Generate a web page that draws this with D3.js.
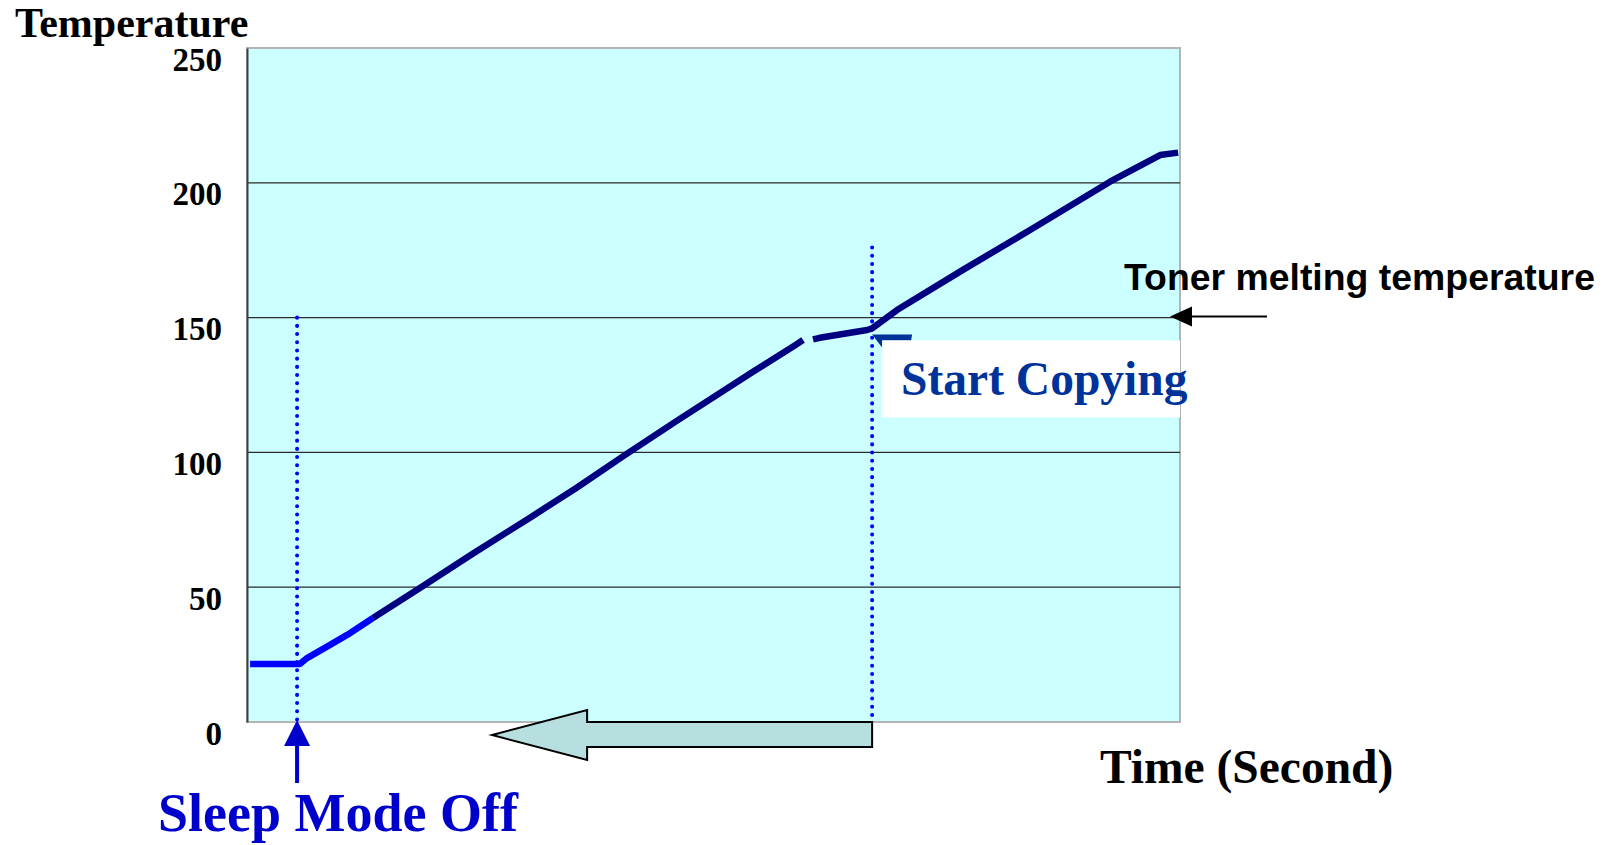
<!DOCTYPE html>
<html>
<head>
<meta charset="utf-8">
<script src="https://cdn.jsdelivr.net/npm/d3@7"></script>
<style>
  body { margin: 0; background: #fff; }
  svg { display: block; }
</style>
</head>
<body>
<svg id="chart" width="1605" height="845"></svg>
<script>
// warm-up data (seconds, degrees)
const standbyTimes = [0.1, 1.70, 1.93, 2.67, 3.22, 4.05];
const standbyTemps = [21.5, 21.5, 23.7, 28.6, 32.3, 38.6];

const heatTimes = [4.05, 5.56, 7.27, 9.10, 10.6, 12.1, 13.83, 16.27, 17.6, 17.88];
const heatTemps = [38.6, 49.7, 62.5, 75.8, 86.9, 98.6, 111.8, 129.9, 139.6, 141.7];

const copyTimes = [18.20, 18.42, 19.94, 20.10, 20.90, 23.02, 25.18, 27.75, 29.36, 29.94];
const copyTemps = [141.9, 142.5, 145.4, 146.0, 152.8, 167.7, 182.5, 200.4, 210.3, 211.2];

const yTicks = [0, 50, 100, 150, 200, 250];
const gridTicks = [50, 100, 150, 200];

const sleepOffTime = 1.61;
const startCopyTime = 20.1;
const meltTemp = 150;

const svg = d3.select('#chart');
const x = d3.scaleLinear().domain([0, 30]).range([247, 1180]);
const y = d3.scaleLinear().domain([0, 250]).range([722, 48]);

const serif = '"Liberation Serif", "Times New Roman", serif';
const sans = '"Liberation Sans", Arial, sans-serif';

// plot background
svg.append('rect')
    .attr('x', x(0))
    .attr('y', y(250))
    .attr('width', x(30) - x(0))
    .attr('height', y(0) - y(250))
    .attr('fill', '#ccffff')
    .attr('stroke', '#b4b4b4')
    .attr('stroke-width', 2);

// grid
svg.selectAll('.grid')
    .data(gridTicks)
    .enter()
    .append('line')
    .attr('class', 'grid')
    .attr('x1', x(0))
    .attr('x2', x(30))
    .attr('y1', (d) => y(d))
    .attr('y2', (d) => y(d))
    .attr('stroke', '#2a2a2a')
    .attr('stroke-width', 1.3);

// y axis
const yAxis = d3.axisLeft(y).tickValues(yTicks).tickSize(0).tickPadding(25);
const gy = svg.append('g').attr('transform', `translate(${x(0)},0)`).call(yAxis);
gy.select('.domain').attr('stroke', '#404040').attr('stroke-width', 2);
gy.selectAll('text')
    .attr('dy', 22)
    .attr('font-family', serif)
    .attr('font-weight', 'bold')
    .attr('font-size', 33)
    .attr('fill', '#000');

svg.append('text')
    .attr('x', 15)
    .attr('y', 37)
    .text('Temperature')
    .attr('font-family', serif)
    .attr('font-weight', 'bold')
    .attr('font-size', 42);

svg.append('text')
    .attr('x', 1100)
    .attr('y', 783)
    .text('Time (Second)')
    .attr('font-family', serif)
    .attr('font-weight', 'bold')
    .attr('font-size', 47.5);

// dotted markers
const dotted = [
    { t: sleepOffTime, top: 150 },
    { t: startCopyTime, top: 176 },
];
svg.selectAll('.mark')
    .data(dotted)
    .enter()
    .append('line')
    .attr('class', 'mark')
    .attr('x1', (d) => x(d.t))
    .attr('x2', (d) => x(d.t))
    .attr('y1', (d) => y(d.top))
    .attr('y2', y(0) - 2)
    .attr('stroke', '#0000ff')
    .attr('stroke-width', 4)
    .attr('stroke-linecap', 'round')
    .attr('stroke-dasharray', '0.1 8.1');

// temperature curve
const line = d3.line()
    .x((d) => x(d[0]))
    .y((d) => y(d[1]));

const segments = [
    { pts: d3.zip(standbyTimes, standbyTemps), color: '#0000ff' },
    { pts: d3.zip(heatTimes, heatTemps), color: '#000080' },
    { pts: d3.zip(copyTimes, copyTemps), color: '#000080' },
];
svg.selectAll('.curve')
    .data(segments)
    .enter()
    .append('path')
    .attr('class', 'curve')
    .attr('d', (d) => line(d.pts))
    .attr('fill', 'none')
    .attr('stroke', (d) => d.color)
    .attr('stroke-width', 6.5)
    .attr('stroke-linejoin', 'round');

// big hollow arrow back to sleep mode
const ax = x(startCopyTime);
const ay = y(0);
svg.append('polygon')
    .attr('points', [
        [ax, ay], [ax, ay + 25], [ax - 285, ay + 25], [ax - 285, ay + 38],
        [ax - 380, ay + 13], [ax - 285, ay - 12], [ax - 285, ay],
    ].join(' '))
    .attr('fill', '#b8dfe0')
    .attr('stroke', '#000')
    .attr('stroke-width', 2);

// sleep mode off arrow
const sx = x(sleepOffTime);
svg.append('line')
    .attr('x1', sx).attr('x2', sx)
    .attr('y1', ay + 61).attr('y2', ay + 20)
    .attr('stroke', '#0000cc')
    .attr('stroke-width', 4);
svg.append('polygon')
    .attr('points', [[sx, ay - 2], [sx - 13, ay + 24], [sx + 13, ay + 24]].join(' '))
    .attr('fill', '#0000cc');
svg.append('text')
    .attr('x', 158)
    .attr('y', 831)
    .text('Sleep Mode Off')
    .attr('font-family', serif)
    .attr('font-weight', 'bold')
    .attr('font-size', 54)
    .attr('fill', '#0000cc');

// start copying callout
const cy = y(146);
svg.append('polygon')
    .attr('points', [
        [ax, cy + 6], [ax + 40, cy + 6], [ax + 39, cy + 12],
        [ax + 10, cy + 12], [ax + 10, cy + 19],
    ].join(' '))
    .attr('fill', '#003399');
svg.append('rect')
    .attr('x', ax + 10)
    .attr('y', cy + 12)
    .attr('width', x(30) - ax - 10)
    .attr('height', 77)
    .attr('fill', '#fff');
svg.append('text')
    .attr('x', ax + 29)
    .attr('y', cy + 67)
    .text('Start Copying')
    .attr('font-family', serif)
    .attr('font-weight', 'bold')
    .attr('font-size', 47.5)
    .attr('fill', '#003399');

// toner melting annotation
const my = y(meltTemp) - 1;
svg.append('line')
    .attr('x1', x(30) + 12).attr('x2', x(30) + 87)
    .attr('y1', my).attr('y2', my)
    .attr('stroke', '#000')
    .attr('stroke-width', 2);
svg.append('polygon')
    .attr('points', [[x(30) - 10, my], [x(30) + 12, my - 10], [x(30) + 12, my + 10]].join(' '))
    .attr('fill', '#000');
svg.append('text')
    .attr('x', 1124)
    .attr('y', 290)
    .text('Toner melting temperature')
    .attr('font-family', sans)
    .attr('font-weight', 'bold')
    .attr('font-size', 37.4);
</script>
</body>
</html>
